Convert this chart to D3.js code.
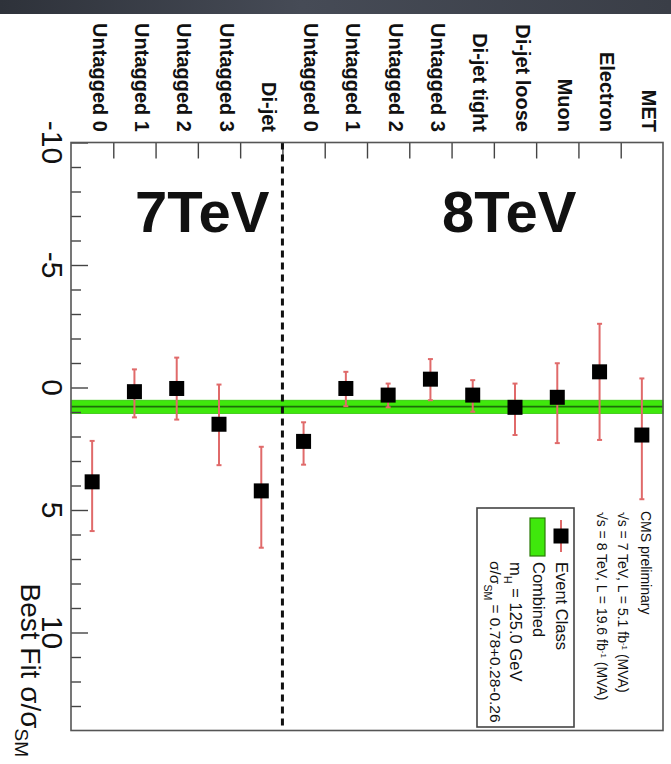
<!DOCTYPE html>
<html>
<head>
<meta charset="utf-8">
<script src="https://cdn.jsdelivr.net/npm/d3@7"></script>
<style>
  html, body { margin: 0; padding: 0; background: #ffffff; }
  svg { display: block; font-family: "Liberation Sans", Arial, Helvetica, sans-serif; }
</style>
</head>
<body>
<div id="chart"></div>
<script>
// Event classes (7 TeV first, then 8 TeV)
const categories = ["Untagged 0", "Untagged 1", "Untagged 2", "Untagged 3", "Di-jet",
  "Untagged 0", "Untagged 1", "Untagged 2", "Untagged 3", "Di-jet tight", "Di-jet loose",
  "Muon", "Electron", "MET"];
const energies = ["7TeV", "7TeV", "7TeV", "7TeV", "7TeV",
  "8TeV", "8TeV", "8TeV", "8TeV", "8TeV", "8TeV", "8TeV", "8TeV", "8TeV"];
// Best-fit signal strength per class and its interval
const bestFit = [3.85, 0.17, 0.04, 1.50, 4.22, 2.20, 0.04, 0.31, -0.34, 0.31, 0.81, 0.40, -0.64, 1.94];
const intervalLow = [2.18, -0.74, -1.22, -0.12, 2.42, 1.42, -0.64, -0.16, -1.16, -0.30, -0.16, -0.99, -2.60, -0.37];
const intervalHigh = [5.86, 1.22, 1.31, 3.17, 6.54, 3.15, 0.76, 0.81, 0.52, 0.99, 1.94, 2.27, 2.14, 4.56];
// Combined result: 0.78 +0.28 -0.26
const combined = [0.78];
const combinedUp = [0.28];
const combinedDown = [0.26];
// Value axis
const valueDomain = [-10, 14];
const majorTicks = [-10, -5, 0, 5, 10];
const minorTicks = [-9, -8, -7, -6, -4, -3, -2, -1, 1, 2, 3, 4, 6, 7, 8, 9, 11, 12, 13];
const energyLabels = ["7TeV", "8TeV"];
const cmsLines = ["CMS preliminary", "7|5.1", "8|19.6"];

const W = 671, H = 764;
const frame = { left: 71, right: 663, top: 142.5, bottom: 730.5 };

const svg = d3.select("#chart").append("svg")
  .attr("width", W).attr("height", H);

const defs = svg.append("defs");
const grad = defs.append("linearGradient").attr("id", "topband")
  .attr("x1", "0").attr("x2", "1").attr("y1", "0").attr("y2", "0");
grad.append("stop").attr("offset", "0%").attr("stop-color", "#2e323a");
grad.append("stop").attr("offset", "45%").attr("stop-color", "#464b56");
grad.append("stop").attr("offset", "100%").attr("stop-color", "#3a3e47");

svg.append("rect").attr("width", W).attr("height", H).attr("fill", "#ffffff");
svg.append("rect").attr("x", 0).attr("y", 0).attr("width", W).attr("height", 14)
  .attr("fill", "url(#topband)");

const idx = d3.range(categories.length);
const x = d3.scaleBand().domain(idx).range([frame.left, frame.right]).padding(0);
const slot = d3.scaleLinear().domain([0, categories.length]).range([frame.left, frame.right]);
const y = d3.scaleLinear().domain(valueDomain).range([frame.top, frame.bottom]);

// plot frame background
svg.append("rect")
  .attr("x", frame.left).attr("y", frame.top)
  .attr("width", frame.right - frame.left).attr("height", frame.bottom - frame.top)
  .attr("fill", "#ffffff");

// combined band
const cLo = combined[0] - combinedDown[0], cHi = combined[0] + combinedUp[0];
svg.append("rect")
  .attr("x", frame.left).attr("width", frame.right - frame.left)
  .attr("y", y(cLo)).attr("height", y(cHi) - y(cLo))
  .attr("fill", "#3fe80c").attr("stroke", "#34c40a").attr("stroke-width", 0.8);
svg.append("line")
  .attr("x1", frame.left).attr("x2", frame.right)
  .attr("y1", y(combined[0])).attr("y2", y(combined[0]))
  .attr("stroke", "#1d6e08").attr("stroke-width", 1.8);

// value axis ticks (pointing into the frame)
const major = svg.append("g").attr("transform", `translate(${frame.left},0)`)
  .call(d3.axisRight(y).tickValues(majorTicks).tickSize(17).tickFormat(""));
const minor = svg.append("g").attr("transform", `translate(${frame.left},0)`)
  .call(d3.axisRight(y).tickValues(minorTicks).tickSize(10).tickFormat(""));
[major, minor].forEach(g => {
  g.select(".domain").remove();
  g.selectAll(".tick line").attr("stroke", "#444").attr("stroke-width", 1.4);
});

// value axis labels, rotated
svg.append("g").selectAll("text").data(majorTicks).join("text")
  .attr("transform", d => `translate(42,${y(d)}) rotate(90)`)
  .attr("text-anchor", "middle")
  .attr("font-size", 30).attr("fill", "#111")
  .text(d => String(d));

// value axis title
const title = svg.append("text")
  .attr("transform", `translate(21,757) rotate(90)`)
  .attr("text-anchor", "end").attr("font-size", 28).attr("fill", "#111");
title.append("tspan").text("Best Fit σ/σ");
title.append("tspan").attr("baseline-shift", "-30%").attr("font-size", 19).text("SM");

// category ticks along the top
const catAxis = svg.append("g").attr("transform", `translate(0,${frame.top})`)
  .call(d3.axisBottom(slot).tickValues(d3.range(1, categories.length)).tickSize(16).tickFormat(""));
catAxis.select(".domain").remove();
catAxis.selectAll(".tick line").attr("stroke", "#444").attr("stroke-width", 1.4);

// category labels, rotated
svg.append("g").selectAll("text").data(idx).join("text")
  .attr("transform", i => `translate(${x(i) + x.bandwidth() / 2 + 0.5},132) rotate(90)`)
  .attr("text-anchor", "end")
  .attr("font-size", 20).attr("font-weight", "bold").attr("fill", "#111")
  .text(i => categories[i]);

// separator between 7 TeV and 8 TeV classes
const firstEight = energies.indexOf("8TeV");
svg.append("line")
  .attr("x1", slot(firstEight)).attr("x2", slot(firstEight))
  .attr("y1", frame.top).attr("y2", frame.bottom)
  .attr("stroke", "#111").attr("stroke-width", 3).attr("stroke-dasharray", "7,5");

// energy labels
const energyX = [135, 442];
svg.append("g").selectAll("text").data(energyLabels).join("text")
  .attr("x", (d, i) => energyX[i]).attr("y", 232)
  .attr("font-size", 58).attr("font-weight", "bold").attr("fill", "#111")
  .text(d => d);

// error bars
const bars = svg.append("g");
const errColor = "#e06a6a";
idx.forEach(i => {
  const cx = x(i) + x.bandwidth() / 2;
  bars.append("line").attr("x1", cx).attr("x2", cx)
    .attr("y1", y(intervalLow[i])).attr("y2", y(intervalHigh[i]))
    .attr("stroke", errColor).attr("stroke-width", 2);
  [intervalLow[i], intervalHigh[i]].forEach(v => {
    bars.append("line").attr("x1", cx - 2.5).attr("x2", cx + 2.5)
      .attr("y1", y(v)).attr("y2", y(v))
      .attr("stroke", errColor).attr("stroke-width", 2);
  });
});

// markers
const ms = 15;
svg.append("g").selectAll("rect").data(idx).join("rect")
  .attr("x", i => x(i) + x.bandwidth() / 2 - ms / 2)
  .attr("y", i => y(bestFit[i]) - ms / 2)
  .attr("width", ms).attr("height", ms)
  .attr("fill", "#000");

// CMS labels (rotated)
function rotText(px, py, size) {
  return svg.append("text")
    .attr("transform", `translate(${px},${py}) rotate(90)`)
    .attr("font-size", size).attr("fill", "#111");
}
rotText(641, 511, 14).text(cmsLines[0]);
[cmsLines[1], cmsLines[2]].forEach((line, k) => {
  const [e, lumi] = line.split("|");
  const t = rotText(618 - k * 21, 512, 14);
  t.append("tspan").text(`√s = ${e} TeV, L = ${lumi} fb`);
  t.append("tspan").attr("baseline-shift", "super").attr("font-size", 8).text("-1");
  t.append("tspan").text(" (MVA)");
});

// legend box
svg.append("rect").attr("x", 477).attr("y", 508).attr("width", 97).attr("height", 219)
  .attr("fill", "#ffffff").attr("stroke", "#444").attr("stroke-width", 1.6);
svg.append("line").attr("x1", 561).attr("x2", 561).attr("y1", 520).attr("y2", 552)
  .attr("stroke", errColor).attr("stroke-width", 2);
svg.append("rect").attr("x", 561 - ms / 2).attr("y", 536 - ms / 2)
  .attr("width", ms).attr("height", ms).attr("fill", "#000");
rotText(556, 562, 16.5).text("Event Class");
svg.append("rect").attr("x", 530).attr("y", 518).attr("width", 15).attr("height", 38)
  .attr("fill", "#3fe80c").attr("stroke", "#2a7a08").attr("stroke-width", 1.2);
rotText(533, 562, 16.5).text("Combined");
const mh = rotText(510, 562, 16.5);
mh.append("tspan").text("m");
mh.append("tspan").attr("baseline-shift", "sub").attr("font-size", 11).text("H");
mh.append("tspan").text(" = 125.0 GeV");
const mu = rotText(490, 561, 15.5);
mu.append("tspan").text("σ/σ");
mu.append("tspan").attr("baseline-shift", "sub").attr("font-size", 10.5).text("SM");
mu.append("tspan").text(` = ${combined[0]}+${combinedUp[0]}-${combinedDown[0]}`);

// frame outline on top
svg.append("rect")
  .attr("x", frame.left).attr("y", frame.top)
  .attr("width", frame.right - frame.left).attr("height", frame.bottom - frame.top)
  .attr("fill", "none").attr("stroke", "#555").attr("stroke-width", 1.6);
</script>
</body>
</html>
